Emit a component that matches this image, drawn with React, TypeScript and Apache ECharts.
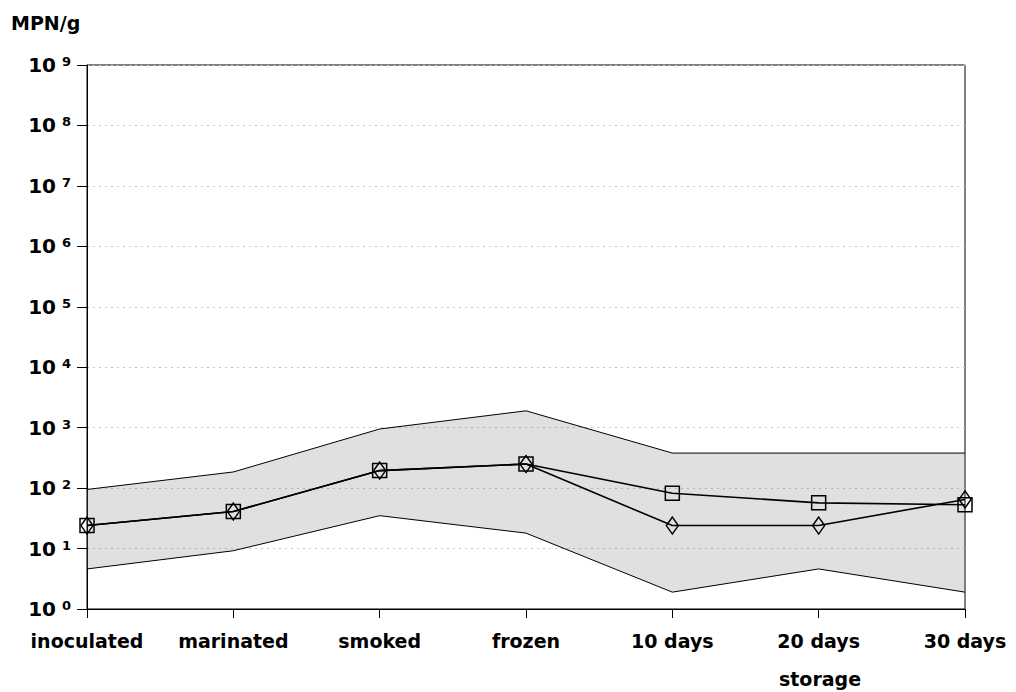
import React, { useEffect, useRef } from "react";
import * as echarts from "echarts";

const categories = ["inoculated", "marinated", "smoked", "frozen", "10 days", "20 days", "30 days"];
const upperLimit = [95, 185, 950, 1900, 380, 380, 380];
const lowerLimit = [4.6, 9.2, 35, 18, 1.9, 4.6, 1.9];
const squareSeries = [24, 41, 195, 250, 82, 57, 53];
const diamondSeries = [24, 41, 195, 250, 24, 24, 65];
const yTickExponents = [0, 1, 2, 3, 4, 5, 6, 7, 8, 9];

const FONT = "DejaVu Sans";

export default function App() {
  const ref = useRef<HTMLDivElement>(null);
  useEffect(() => {
    if (!ref.current) return;
    const chart = echarts.init(ref.current, null, { renderer: "svg" });
    const bandDelta = upperLimit.map((u, i) => u - lowerLimit[i]);
    chart.setOption({
      animation: false,
      backgroundColor: "#fff",
      grid: { left: 87, right: 51, top: 65, bottom: 83, show: true, borderColor: "#000", borderWidth: 1 },
      graphic: [
        { type: "text", left: 11, top: 13, style: { text: "MPN/g", font: `bold 19px '${FONT}'`, fill: "#000" } },
        { type: "text", x: 820, y: 679, style: { text: "storage", font: `bold 19px '${FONT}'`, fill: "#000", align: "center", verticalAlign: "middle" } },
      ],
      xAxis: {
        type: "category",
        data: categories,
        boundaryGap: false,
        axisLine: { lineStyle: { color: "#000", width: 1 } },
        axisTick: { show: true, length: 9, lineStyle: { color: "#000" } },
        axisLabel: { interval: 0, margin: 22, color: "#000", fontFamily: FONT, fontWeight: "bold", fontSize: 19 },
        splitLine: { show: false },
      },
      yAxis: {
        type: "log",
        logBase: 10,
        min: Math.pow(10, yTickExponents[0]),
        max: Math.pow(10, yTickExponents[yTickExponents.length - 1]),
        interval: 1,
        axisLine: { show: true, lineStyle: { color: "#000", width: 1 } },
        axisTick: { show: true, length: 10, lineStyle: { color: "#000" } },
        axisLabel: {
          margin: 16,
          formatter: (v: number) => `{b|10}{s|${Math.round(Math.log10(v))}}`,
          rich: {
            b: { fontFamily: FONT, fontWeight: "bold", fontSize: 20, color: "#000", lineHeight: 20 },
            s: { fontFamily: FONT, fontWeight: "bold", fontSize: 13, color: "#000", verticalAlign: "top", lineHeight: 20, padding: [0, 0, 6, 6] },
          },
        },
        splitLine: { show: true, lineStyle: { color: "#c4c4c4", type: [2, 4], width: 1 } },
      },
      series: [
        {
          name: "lower",
          type: "line",
          stack: "band",
          data: lowerLimit,
          showSymbol: false,
          symbol: "none",
          lineStyle: { color: "#000", width: 1 },
          z: 1,
        },
        {
          name: "upper",
          type: "line",
          stack: "band",
          data: bandDelta,
          showSymbol: false,
          symbol: "none",
          lineStyle: { color: "#000", width: 1 },
          areaStyle: { color: "rgba(110,110,110,0.3)" },
          z: 1,
        },
        {
          name: "square",
          type: "line",
          data: squareSeries,
          symbol: "rect",
          symbolSize: 14,
          lineStyle: { color: "#000", width: 1.6 },
          itemStyle: { color: "rgba(0,0,0,0)", borderColor: "#000", borderWidth: 1.5 },
          z: 3,
        },
        {
          name: "diamond",
          type: "line",
          data: diamondSeries,
          symbol: "diamond",
          symbolSize: [12, 17],
          lineStyle: { color: "#000", width: 1.6 },
          itemStyle: { color: "rgba(0,0,0,0)", borderColor: "#000", borderWidth: 1.5 },
          z: 4,
        },
      ],
    });
    return () => chart.dispose();
  }, []);
  return <div ref={ref} style={{ position: "fixed", left: 0, top: 0, width: 1016, height: 692 }} />;
}
